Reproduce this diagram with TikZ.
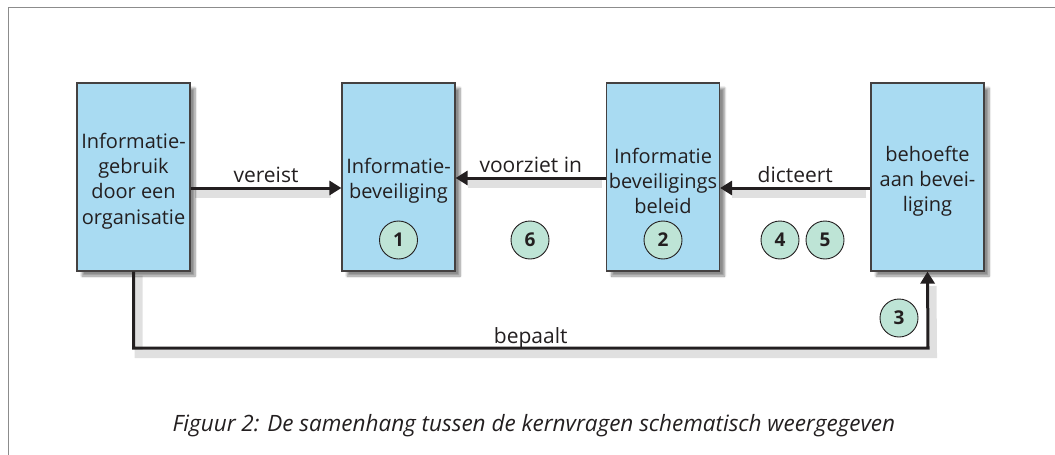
\documentclass[tikz,border=0pt]{standalone}
\usepackage{fontspec}
\setmainfont{Open Sans}
\usetikzlibrary{arrows.meta,shadows.blur}
\definecolor{boxblue}{HTML}{A9DBF2}
\definecolor{stepgreen}{HTML}{BEE4D6}
\definecolor{ink}{HTML}{231F20}
\tikzset{
  block/.style={draw=ink!85, line width=1.2pt, fill=boxblue,
    minimum width=113pt, minimum height=188pt, inner sep=0pt,
    blur shadow={shadow xshift=5pt, shadow yshift=-5pt, shadow blur steps=8, shadow opacity=45}},
  blocktext/.style={align=center, font=\fontsize{20}{25.2}\selectfont, text=ink,
    inner sep=0pt, yshift=-4pt},
  conn/.style={draw=ink, line width=3pt, -{Triangle[length=12pt,width=14pt]}},
  connshadow/.style={draw=black, opacity=0.12, line width=8pt},
  lbl/.style={font=\fontsize{21}{22}\selectfont, text=ink, inner sep=0pt, anchor=base, yshift=6pt},
  stepmark/.style={circle, draw=ink, line width=0.9pt, fill=stepgreen,
    minimum size=38pt, inner sep=0pt, font=\fontsize{19}{19}\selectfont\bfseries, text=ink},
}
\begin{document}
\begin{tikzpicture}[x=1pt,y=-1pt]
\useasboundingbox (0,0) rectangle (1055,455);
% page frame (top and left rules)
\draw[draw=black!45, line width=1.6pt] (1055,7.5) -- (8.5,7.5) -- (8.5,455);

% the four blocks and their texts
\node[block] (use)  at (133.5,177) {};
\node[block] (sec)  at (398.5,177) {};
\node[block] (pol)  at (663,177)   {};
\node[block] (need) at (927.5,177) {};
\node[blocktext] (useT)  at (use)  {Informatie-\\gebruik\\door een\\organisatie};
\node[blocktext] (secT)  at (sec)  {Informatie-\\beveiliging};
\node[blocktext] (polT)  at (pol)  {Informatie\\beveiligings\\beleid};
\node[blocktext] (needT) at (need) {behoefte\\aan bevei-\\liging};

% route points of the return line
\coordinate (c1) at (133.5,348);
\coordinate (c2) at (928,348);

% soft shadows under the connectors
\draw[connshadow] ([shift={(4,6)}]use.east |- 0,188) -- ([shift={(-10,6)}]sec.west |- 0,188);
\draw[connshadow] ([shift={(-4,6)}]pol.west |- 0,178) -- ([shift={(12,6)}]sec.east |- 0,178);
\draw[connshadow] ([shift={(-4,6)}]need.west |- 0,188) -- ([shift={(12,6)}]pol.east |- 0,188);
\draw[connshadow] ([shift={(5,4)}]use.south) -- ([shift={(5,6)}]c1) -- ([shift={(5,6)}]c2) -- ([shift={(5,-4)}]need.south |- 0,290);

% connectors
\draw[conn] (use.east |- 0,188) -- node[lbl] {vereist} (sec.west |- 0,188);
\draw[conn] (pol.west |- 0,178) -- node[lbl] {voorziet in} (sec.east |- 0,178);
\draw[conn] (need.west |- 0,188) -- node[lbl] {dicteert} (pol.east |- 0,188);
\draw[conn] (use.south) -- (c1) -- node[lbl, pos=0.5, yshift=-1pt] {bepaalt} (c2) -- (need.south);

% numbered markers
\node[stepmark] (m1) at (398.5,240) {1};
\node[stepmark] (m6) at (530,240)   {6};
\node[stepmark] (m2) at (663,240)   {2};
\node[stepmark] (m4) at (780,240)   {4};
\node[stepmark] (m5) at (825,240)   {5};
\node[stepmark] (m3) at (899,318)   {3};

% caption
\node[font=\fontsize{22.5}{24}\selectfont\itshape, text=ink, anchor=base] (cap) at (534,431)
  {Figuur 2: De samenhang tussen de kernvragen schematisch weergegeven};
\end{tikzpicture}
\end{document}
